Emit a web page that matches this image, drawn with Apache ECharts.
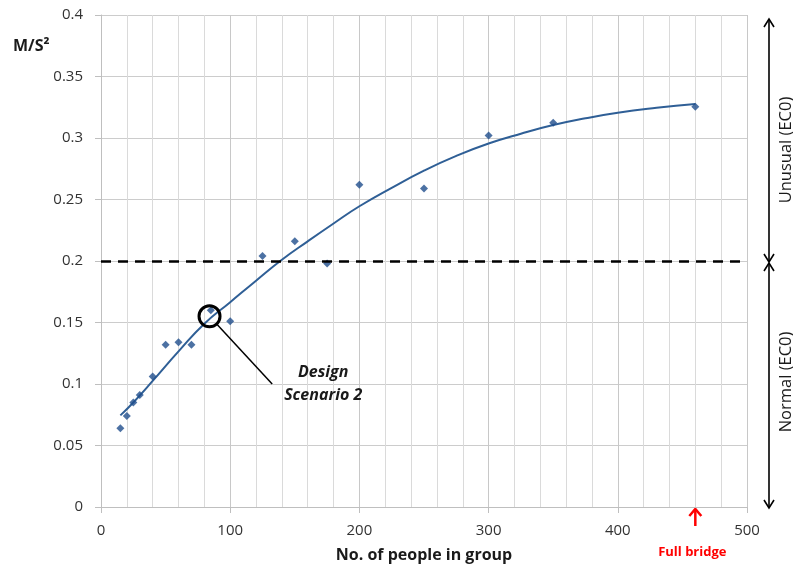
<!DOCTYPE html>
<html><head><meta charset="utf-8">
<script src="https://cdn.jsdelivr.net/npm/echarts@6/dist/echarts.min.js"></script>
<style>html,body{margin:0;padding:0;background:#fff}#c{width:793px;height:570px}</style>
</head><body><div id="c"></div>
<script>
// ---- data ----
const groupSize = [15, 20, 25, 30, 40, 50, 60, 70, 85, 100, 125, 150, 175, 200, 250, 300, 350, 460];
const accel = [0.064, 0.074, 0.085, 0.091, 0.106, 0.132, 0.134, 0.132, 0.160, 0.151, 0.204, 0.216, 0.198, 0.262, 0.259, 0.302, 0.3125, 0.3255];
const trendX = [15, 25, 40, 60, 80, 100, 120, 140, 160, 180, 200, 225, 250, 275, 300, 325, 350, 375, 400, 430, 460];
const trendY = [0.0745, 0.085, 0.1025, 0.1265, 0.149, 0.1665, 0.184, 0.201, 0.216, 0.2305, 0.2445, 0.2595, 0.2735, 0.2855, 0.2955, 0.3035, 0.3105, 0.316, 0.3205, 0.3245, 0.3277];
const limitValue = 0.2;
const designPoint = [84, 0.155];
const designLeaderEnd = [132.5, 0.1];
const fullBridgeSize = 460;
const xRange = [0, 500];
const yRange = [0, 0.4];
const xTitle = 'No. of people in group';
const yTitle = 'M/S²';
const zoneUpper = 'Unusual (EC0)';
const zoneLower = 'Normal (EC0)';
const designLabel = ['Design', 'Scenario 2'];
const fullBridgeLabel = 'Full bridge';

const FONT = '"Open Sans", "DejaVu Sans", sans-serif';
const chart = echarts.init(document.getElementById('c'), null, {renderer: 'canvas'});

const points = groupSize.map((x, i) => [x, accel[i]]);
const trend = trendX.map((x, i) => [x, trendY[i]]);

chart.setOption({
  animation: false,
  backgroundColor: '#fff',
  grid: {left: 101, right: 46, top: 15, bottom: 63},
  xAxis: {
    type: 'value', min: xRange[0], max: xRange[1], interval: 100,
    name: xTitle, nameLocation: 'middle', nameGap: 40,
    nameTextStyle: {fontFamily: FONT, fontWeight: 'bold', fontSize: 16, color: '#1a1a1a'},
    axisLine: {show: true, lineStyle: {color: '#bfbfbf', width: 1}},
    axisTick: {show: true, length: 6, lineStyle: {color: '#bfbfbf'}},
    axisLabel: {fontFamily: FONT, fontSize: 15, color: '#333', margin: 16},
    splitLine: {show: true, lineStyle: {color: '#c8c8c8', width: 1}},
    minorTick: {show: false, splitNumber: 5},
    minorSplitLine: {show: true, lineStyle: {color: '#dadada', width: 1}}
  },
  yAxis: {
    type: 'value', min: yRange[0], max: yRange[1], interval: 0.05,
    axisLine: {show: true, lineStyle: {color: '#bfbfbf', width: 1}},
    axisTick: {show: true, length: 6, lineStyle: {color: '#bfbfbf'}},
    axisLabel: {fontFamily: FONT, fontSize: 15, color: '#333', margin: 18,
      formatter: v => String(parseFloat(v.toFixed(3)))},
    splitLine: {show: true, lineStyle: {color: '#cccccc', width: 1}}
  },
  series: [
    {
      type: 'line', data: trend, smooth: 0.5, showSymbol: false, z: 3,
      lineStyle: {color: '#2f5f96', width: 2},
      markLine: {
        silent: true, symbol: ['none', 'none'], label: {show: false},
        lineStyle: {color: '#000', width: 2.5, type: [10, 7]},
        data: [{yAxis: limitValue}]
      }
    },
    {
      type: 'scatter', data: points, symbol: 'diamond', symbolSize: 8, z: 4,
      itemStyle: {color: '#1f4e8c'}
    }
  ]
});

function px(p) { return chart.convertToPixel({gridIndex: 0}, p); }
const c0 = px(designPoint);
const c1 = px(designLeaderEnd);
const pTop = px([xRange[1], yRange[1]]);
const pMid = px([xRange[1], limitValue]);
const pBot = px([xRange[1], yRange[0]]);
const fb = px([fullBridgeSize, yRange[0]]);
const ax = pMid[0] + 22;
const R = 10.5;
const ang = Math.atan2(c1[1] - c0[1], c1[0] - c0[0]);

function vArrow(x, y1, y2) {
  const st = {stroke: '#000', lineWidth: 1.6, fill: null};
  return [
    {type: 'line', shape: {x1: x, y1: y1 + 1, x2: x, y2: y2 - 1}, style: st},
    {type: 'polyline', shape: {points: [[x - 5, y1 + 8], [x, y1], [x + 5, y1 + 8]]}, style: st},
    {type: 'polyline', shape: {points: [[x - 5, y2 - 8], [x, y2], [x + 5, y2 - 8]]}, style: st}
  ];
}

chart.setOption({
  graphic: [
    {type: 'text', left: 13, top: 38, style: {text: yTitle, font: 'bold 16px ' + FONT, fill: '#1a1a1a'}},
    {type: 'circle', shape: {cx: c0[0], cy: c0[1], r: R}, style: {stroke: '#000', lineWidth: 3, fill: null}, z: 10},
    {type: 'line', shape: {x1: c0[0] + R * Math.cos(ang), y1: c0[1] + R * Math.sin(ang), x2: c1[0], y2: c1[1]},
      style: {stroke: '#000', lineWidth: 1.5}, z: 10},
    {type: 'text', x: c1[0] + 51, y: c1[1] - 12, z: 10,
      style: {text: designLabel[0], font: 'italic bold 16px ' + FONT, fill: '#1a1a1a', textAlign: 'center', textVerticalAlign: 'middle'}},
    {type: 'text', x: c1[0] + 51, y: c1[1] + 11, z: 10,
      style: {text: designLabel[1], font: 'italic bold 16px ' + FONT, fill: '#1a1a1a', textAlign: 'center', textVerticalAlign: 'middle'}},
    ...vArrow(ax, pTop[1] + 4, pMid[1] + 1),
    ...vArrow(ax, pMid[1] + 2, pBot[1] + 1),
    {type: 'text', x: ax + 17, y: (pTop[1] + pMid[1]) / 2 + 12, rotation: Math.PI / 2,
      style: {text: zoneUpper, font: '16.5px ' + FONT, fill: '#1a1a1a', textAlign: 'center', textVerticalAlign: 'middle'}},
    {type: 'text', x: ax + 17, y: (pMid[1] + pBot[1]) / 2 - 2, rotation: Math.PI / 2,
      style: {text: zoneLower, font: '16.5px ' + FONT, fill: '#1a1a1a', textAlign: 'center', textVerticalAlign: 'middle'}},
    {type: 'line', shape: {x1: fb[0], y1: fb[1] + 3, x2: fb[0], y2: fb[1] + 19}, style: {stroke: '#ff0000', lineWidth: 2.5}},
    {type: 'polyline', shape: {points: [[fb[0] - 6, fb[1] + 9], [fb[0], fb[1] + 2], [fb[0] + 6, fb[1] + 9]]},
      style: {stroke: '#ff0000', lineWidth: 2.5, fill: null}},
    {type: 'text', x: fb[0] - 3, y: fb[1] + 45,
      style: {text: fullBridgeLabel, font: 'bold 13px ' + FONT, fill: '#ff0000', textAlign: 'center', textVerticalAlign: 'middle'}}
  ]
});
</script></body></html>
